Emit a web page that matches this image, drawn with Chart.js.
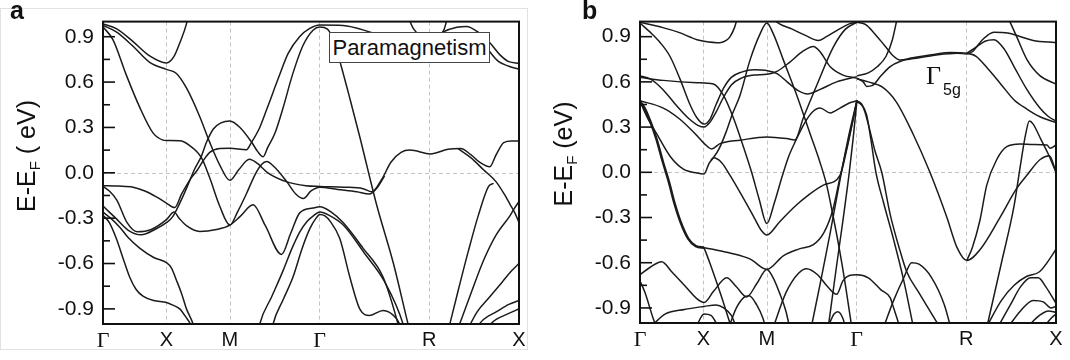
<!DOCTYPE html>
<html>
<head>
<meta charset="utf-8">
<script src="https://cdn.jsdelivr.net/npm/chart.js@4.4.1/dist/chart.umd.min.js"></script>
<style>
body { margin: 0; background: #fff; }
#wrap { position: relative; width: 1070px; height: 360px; overflow: hidden; font-family: "Liberation Sans", Arial, sans-serif; color: #111; }
canvas { position: absolute; top: 0; }
.tag { position: absolute; font: bold 25px/24px "Liberation Sans", Arial, sans-serif; }
.ytitle { position: absolute; font-size: 25px; line-height: 30px; white-space: nowrap; transform: translate(-50%, -50%) rotate(-90deg); }
.ytitle sub { font-size: 15px; vertical-align: -5px; }
.box { position: absolute; left: 329px; top: 32px; width: 161px; height: 31px; box-sizing: border-box; border: 1px solid #444; background: #fff; font-size: 22px; line-height: 29px; text-align: center; white-space: nowrap; }
.note { position: absolute; white-space: nowrap; }
.frame { position: absolute; border: 1px solid #e2e2e2; }
</style>
</head>
<body>
<div id="wrap">
  <div class="frame" style="left:0;top:8px;width:526px;height:340px;"></div>
  <canvas id="chartA" width="535" height="360" style="left:0"></canvas>
  <canvas id="chartB" width="535" height="360" style="left:535px"></canvas>
  <div class="tag" style="left:10px;top:-2px;">a</div>
  <div class="tag" style="left:582px;top:-2px;">b</div>
  <div class="ytitle" style="left:30px;top:156px;">E-E<sub>F</sub> ( eV)</div>
  <div class="ytitle" style="left:567px;top:154px;">E-E<sub>F</sub> (eV)</div>
  <div class="box">Paramagnetism</div>
  <div class="note" style="left:926px;top:63px;font:26px/26px 'Liberation Serif', serif;">Γ</div>
  <div class="note" style="left:943px;top:82px;font:16px/16px 'Liberation Sans', Arial, sans-serif;">5g</div>
</div>
<script>
// k-path: Γ - X - M - Γ - R - X (simple cubic, units of 2π/a)
const kPath = [0, 0.5, 1.0, 1.707, 2.573, 3.28];
const kLabels = ['Γ', 'X', 'M', 'Γ', 'R', 'X'];
const energyTicks = [-0.9, -0.6, -0.3, 0, 0.3, 0.6, 0.9];
const energyMinor = [-0.75, -0.45, -0.15, 0.15, 0.45, 0.75];

// panel a: paramagnetic bands, [k, E-EF]
const bandsA = [
  [[0,0.985],[0.105,0.953],[0.237,0.868],[0.368,0.773],[0.5,0.727],[0.56,0.77],[0.605,0.858],[0.658,0.985],[0.672,1.04]],
  [[0,0.975],[0.105,0.932],[0.237,0.837],[0.368,0.731],[0.5,0.684],[0.579,0.657],[0.658,0.561],[0.763,0.371],[0.842,0.201],[0.92,0.053],[1.0,-0.05],[1.07,0.02],[1.154,0.09],[1.22,0.06],[1.3,0.0],[1.45,-0.06],[1.6,-0.085],[1.71,-0.09],[1.9,-0.095],[2.05,-0.105],[2.12,-0.125],[2.2,-0.04],[2.27,0.07],[2.35,0.135],[2.42,0.15],[2.582,0.125],[2.72,0.155],[2.82,0.16],[2.9,0.12],[2.97,0.07],[3.05,0.04],[3.1,0.12],[3.16,0.2],[3.22,0.21],[3.28,0.21]],
  [[2.8,0.16],[2.9,0.1],[3.0,0.02],[3.1,-0.06],[3.17,-0.15],[3.21,-0.21],[3.25,-0.27],[3.28,-0.33]],
  [[0,0.966],[0.079,0.879],[0.184,0.646],[0.289,0.434],[0.394,0.264],[0.473,0.216],[0.5,0.213],[0.605,0.212],[0.684,0.18],[0.776,0.1],[0.84,-0.03],[0.92,-0.22],[1.0,-0.346],[1.06,-0.26],[1.13,-0.14],[1.2,-0.01],[1.25,0.055],[1.29,0.075],[1.35,0.04],[1.45,-0.06],[1.52,-0.14],[1.58,-0.17],[1.64,-0.12],[1.71,-0.095],[1.85,-0.11],[2.0,-0.125],[2.1,-0.14],[2.16,-0.1],[2.22,-0.02]],
  [[0,-0.22],[0.1,-0.3],[0.2,-0.38],[0.3,-0.41],[0.42,-0.37],[0.5,-0.33],[0.55,-0.29],[0.6,-0.21],[0.66,-0.1],[0.72,0.02],[0.776,0.11],[0.815,0.2],[0.87,0.29],[0.93,0.33],[1.0,0.343],[1.08,0.3],[1.17,0.205],[1.22,0.14],[1.262,0.106],[1.3,0.17],[1.357,0.265],[1.42,0.43],[1.493,0.646],[1.574,0.837],[1.656,0.943],[1.71,0.964],[1.77,0.95],[1.82,0.87],[1.88,0.7],[1.95,0.48],[2.03,0.22],[2.1,-0.02],[2.16,-0.22],[2.29,-0.6],[2.405,-1.0],[2.42,-1.05]],
  [[0,-0.085],[0.12,-0.088],[0.237,-0.095],[0.33,-0.12],[0.421,-0.159],[0.5,-0.2],[0.565,-0.23],[0.62,-0.14],[0.69,-0.04],[0.737,0.01],[0.79,0.08],[0.842,0.135],[0.92,0.16],[1.0,0.163],[1.131,0.153],[1.17,0.2],[1.236,0.3],[1.3,0.44],[1.38,0.62],[1.46,0.79],[1.55,0.9],[1.63,0.955],[1.71,0.978],[1.893,0.975],[2.156,0.92],[2.419,0.879],[2.582,0.87],[2.68,0.93],[2.79,0.962],[2.866,0.968],[2.95,0.935],[3.05,0.86],[3.13,0.78],[3.2,0.735],[3.28,0.725]],
  [[2.40,1.04],[2.45,0.95],[2.51,0.9],[2.582,0.879],[2.65,0.9],[2.69,0.95],[2.72,1.04]],
  [[2.98,0.88],[3.05,0.8],[3.12,0.735],[3.2,0.705],[3.28,0.685]],
  [[0,-0.09],[0.05,-0.12],[0.109,-0.18],[0.19,-0.33],[0.27,-0.39],[0.38,-0.375],[0.5,-0.31],[0.56,-0.26],[0.6,-0.3],[0.658,-0.35],[0.763,-0.388],[0.894,-0.375],[1.0,-0.346],[1.08,-0.29],[1.183,-0.212],[1.28,-0.35],[1.407,-0.54],[1.48,-0.4],[1.551,-0.265],[1.656,-0.233],[1.71,-0.225],[1.8,-0.26],[1.893,-0.329],[2.05,-0.498],[2.208,-0.689],[2.326,-1.0],[2.34,-1.05]],
  [[0,-0.26],[0.06,-0.3],[0.132,-0.36],[0.2,-0.43],[0.289,-0.498],[0.4,-0.56],[0.5,-0.594],[0.54,-0.63],[0.579,-0.71],[0.62,-0.8],[0.658,-0.9],[0.71,-1.0],[0.725,-1.05]],
  [[0,-0.28],[0.05,-0.33],[0.105,-0.435],[0.16,-0.57],[0.21,-0.689],[0.26,-0.77],[0.315,-0.816],[0.4,-0.845],[0.5,-0.858],[0.55,-0.875],[0.605,-0.9],[0.65,-0.95],[0.7,-1.02],[0.71,-1.05]],
  [[1.225,-1.05],[1.236,-1.0],[1.33,-0.82],[1.42,-0.647],[1.49,-0.5],[1.551,-0.392],[1.61,-0.32],[1.656,-0.286],[1.71,-0.26],[1.78,-0.28],[1.9,-0.35],[2.06,-0.53],[2.22,-0.72],[2.366,-1.0],[2.38,-1.05]],
  [[1.33,-1.05],[1.341,-1.0],[1.42,-0.84],[1.498,-0.689],[1.57,-0.5],[1.63,-0.371],[1.68,-0.3],[1.71,-0.275],[1.75,-0.285],[1.79,-0.32],[1.867,-0.435],[1.946,-0.689],[2.024,-0.9],[2.103,-0.943],[2.208,-0.91],[2.31,-0.96],[2.37,-1.05]],
  [[2.72,-1.05],[2.8,-0.78],[2.88,-0.52],[2.96,-0.28],[3.04,-0.09],[3.08,-0.07]],
  [[2.79,-1.05],[2.9,-0.8],[3.0,-0.58],[3.1,-0.41],[3.207,-0.286],[3.24,-0.24],[3.28,-0.19]],
  [[2.866,-1.05],[2.95,-0.92],[3.05,-0.82],[3.15,-0.72],[3.22,-0.65],[3.28,-0.6]],
  [[2.92,-1.05],[3.0,-0.97],[3.1,-0.92],[3.2,-0.87],[3.28,-0.845]],
  [[2.99,-1.05],[3.1,-0.97],[3.2,-0.93],[3.28,-0.9]]
];

// panel b: Γ5g ordered bands, [k, E-EF]
const bandsB = [
  [[0,0.47],[0.04,0.42],[0.08,0.34],[0.13,0.22],[0.18,0.07],[0.23,-0.07],[0.27,-0.2],[0.32,-0.33],[0.38,-0.44],[0.44,-0.49],[0.505,-0.5]],
  [[0,0.995],[0.18,0.96],[0.3,0.93],[0.45,0.88],[0.505,0.87],[0.63,0.86],[0.68,0.875],[0.71,0.9],[0.745,0.96],[0.77,1.03]],
  [[0,0.99],[0.08,0.93],[0.16,0.86],[0.236,0.77],[0.315,0.62],[0.394,0.45],[0.45,0.36],[0.505,0.32],[0.55,0.35],[0.6,0.45],[0.66,0.56],[0.72,0.63],[0.8,0.665],[0.9,0.68],[1.0,0.675],[1.08,0.655],[1.16,0.6],[1.25,0.54],[1.32,0.52],[1.42,0.55],[1.55,0.6],[1.71,0.635]],
  [[0,0.63],[0.184,0.61],[0.45,0.595],[0.578,0.586],[0.657,0.512],[0.736,0.362],[0.815,0.17],[0.88,0.0],[0.94,-0.18],[1.0,-0.34],[1.06,-0.2],[1.12,-0.03],[1.17,0.1],[1.222,0.2],[1.3,0.33],[1.36,0.4],[1.42,0.426],[1.5,0.394],[1.577,0.426],[1.65,0.46],[1.71,0.475]],
  [[0,0.64],[0.08,0.62],[0.18,0.55],[0.28,0.45],[0.38,0.36],[0.46,0.31],[0.505,0.3],[0.55,0.33],[0.6,0.4],[0.66,0.5],[0.72,0.58],[0.8,0.625],[0.9,0.645],[1.0,0.65],[1.08,0.67],[1.18,0.73],[1.28,0.8],[1.367,0.835],[1.42,0.8],[1.5,0.7],[1.6,0.645],[1.71,0.625]],
  [[0,0.47],[0.06,0.36],[0.131,0.256],[0.237,0.107],[0.342,0.021],[0.45,-0.005],[0.505,-0.011],[0.545,0.06],[0.578,0.096],[0.62,0.15],[0.68,0.27],[0.73,0.39],[0.789,0.512],[0.868,0.746],[0.946,0.917],[1.0,0.99],[1.052,0.917],[1.13,0.746],[1.236,0.512],[1.341,0.256],[1.42,0.064],[1.472,-0.085],[1.52,-0.28],[1.57,-0.5],[1.62,-0.75],[1.67,-1.03]],
  [[0.505,-0.5],[0.6,-0.515],[0.71,-0.535],[0.87,-0.576],[1.0,-0.644],[1.13,-0.554],[1.25,-0.51],[1.367,-0.48],[1.45,-0.4],[1.52,-0.25],[1.58,-0.02],[1.64,0.2],[1.68,0.35],[1.71,0.475]],
  [[0.505,-0.5],[0.55,-0.6],[0.6,-0.72],[0.66,-0.87],[0.72,-1.03]],
  [[0,0.475],[0.184,0.426],[0.315,0.352],[0.447,0.245],[0.505,0.192],[0.565,0.155],[0.631,0.19],[0.789,0.213],[1.0,0.235],[1.157,0.224],[1.222,0.215],[1.288,0.362],[1.393,0.576],[1.525,0.832],[1.62,0.95],[1.71,0.995]],
  [[0.56,0.08],[0.578,0.096],[0.644,0.064],[0.71,-0.021],[0.8,-0.15],[0.9,-0.3],[0.96,-0.39],[1.0,-0.416],[1.1,-0.33],[1.21,-0.235],[1.33,-0.15],[1.446,-0.085],[1.577,-0.02],[1.63,0.15],[1.68,0.35],[1.71,0.475]],
  [[1.03,1.03],[1.1,0.985],[1.2,0.95],[1.3,0.91],[1.406,0.874],[1.47,0.9],[1.57,0.95],[1.65,0.985],[1.71,0.995]],
  [[1.35,-1.03],[1.43,-0.7],[1.5,-0.4],[1.577,-0.05],[1.64,0.22],[1.71,0.475]],
  [[1.484,-1.03],[1.55,-0.62],[1.6,-0.32],[1.65,0.0],[1.68,0.22],[1.71,0.47]],
  [[1.71,0.475],[1.75,0.45],[1.787,0.38],[1.82,0.22],[1.86,0.0],[1.92,-0.2],[2.0,-0.448],[2.08,-0.72],[2.156,-1.03]],
  [[1.71,0.47],[1.76,0.43],[1.8,0.32],[1.85,0.15],[1.906,0.0],[1.972,-0.277],[2.05,-0.52],[2.103,-0.66],[2.2,-0.8],[2.366,-1.03]],
  [[1.71,0.995],[1.78,0.98],[1.85,0.92],[1.93,0.84],[2.0,0.77],[2.05,0.745],[2.15,0.76],[2.3,0.78],[2.45,0.795],[2.577,0.79],[2.65,0.77],[2.75,0.68],[2.85,0.58],[2.95,0.48],[3.05,0.42],[3.15,0.37],[3.28,0.33]],
  [[1.71,0.64],[1.8,0.66],[1.87,0.7],[1.94,0.77],[1.99,0.88],[2.03,1.03]],
  [[1.71,0.625],[1.76,0.6],[1.787,0.57],[1.83,0.575],[1.9,0.64],[1.97,0.7],[2.05,0.735],[2.2,0.76],[2.35,0.78],[2.5,0.79],[2.577,0.785],[2.62,0.8],[2.7,0.88],[2.79,0.93],[2.9,0.925],[3.0,0.9],[3.1,0.875],[3.28,0.86]],
  [[1.71,0.62],[1.8,0.6],[1.912,0.565],[2.019,0.469],[2.152,0.256],[2.286,0.0],[2.42,-0.3],[2.5,-0.5],[2.577,-0.585],[2.682,-0.512],[2.839,-0.299],[2.97,-0.107],[3.05,-0.02],[3.155,0.085],[3.228,0.11],[3.28,0.0]],
  [[2.577,-0.585],[2.62,-0.5],[2.68,-0.32],[2.734,-0.085],[2.813,0.085],[2.892,0.17],[2.997,0.188],[3.1,0.185],[3.208,0.181],[3.234,0.16],[3.28,0.181]],
  [[2.734,-1.03],[2.85,-0.6],[2.95,-0.22],[3.0,0.05],[3.04,0.25],[3.07,0.34],[3.1,0.32],[3.16,0.22],[3.22,0.12],[3.26,0.04],[3.28,0.0]],
  [[2.9,1.03],[2.97,0.9],[3.05,0.75],[3.155,0.64],[3.28,0.586]],
  [[2.577,0.79],[2.65,0.83],[2.72,0.87],[2.79,0.88],[2.87,0.82],[2.95,0.7],[3.05,0.55],[3.15,0.43],[3.22,0.37],[3.28,0.34]],
  [[1.05,-1.03],[1.15,-0.8],[1.25,-0.67],[1.314,-0.64],[1.4,-0.68],[1.48,-0.76],[1.55,-0.81],[1.6,-0.72],[1.65,-0.685],[1.71,-0.68],[1.8,-0.7],[1.9,-0.78],[1.972,-0.832],[2.0,-0.9],[2.05,-1.03]],
  [[1.48,-1.03],[1.53,-0.94],[1.56,-0.925],[1.6,-0.97],[1.62,-1.03]],
  [[1.92,-1.03],[2.0,-0.85],[2.08,-0.7],[2.142,-0.6],[2.2,-0.61],[2.3,-0.7],[2.4,-0.88],[2.45,-1.03]],
  [[0,-0.68],[0.08,-0.63],[0.171,-0.593],[0.25,-0.66],[0.35,-0.75],[0.45,-0.84],[0.505,-0.864],[0.58,-0.79],[0.684,-0.7],[0.76,-0.76],[0.841,-0.827],[0.92,-0.74],[1.0,-0.645],[1.05,-0.7],[1.1,-0.8],[1.15,-0.92],[1.18,-1.03]],
  [[0,-0.72],[0.04,-0.8],[0.1,-0.96],[0.13,-1.03]],
  [[0.08,-1.03],[0.2,-0.94],[0.35,-0.91],[0.505,-0.89],[0.6,-0.88],[0.66,-0.9],[0.72,-0.95],[0.76,-1.03]],
  [[0.44,-1.03],[0.505,-0.94],[0.56,-0.95],[0.62,-1.03]],
  [[0.7,-1.03],[0.76,-0.9],[0.82,-0.83],[0.86,-0.82],[0.92,-0.88],[0.97,-0.97],[0.99,-1.03]],
  [[2.73,-1.03],[2.85,-0.85],[2.95,-0.75],[3.05,-0.69],[3.15,-0.66],[3.25,-0.55],[3.28,-0.51]],
  [[2.82,-1.03],[2.92,-0.88],[3.0,-0.76],[3.08,-0.7],[3.14,-0.7],[3.2,-0.76],[3.28,-0.87]],
  [[2.9,-1.03],[3.0,-0.92],[3.1,-0.85],[3.18,-0.86],[3.24,-0.9],[3.28,-0.89]],
  [[3.05,-1.03],[3.15,-0.95],[3.22,-0.92],[3.28,-0.93]],
  [[3.18,-1.03],[3.24,-0.97],[3.28,-0.94]]
];
const thickB = [0];

const decor = {
  id: 'decor',
  beforeDatasetsDraw(chart) {
    const { ctx, chartArea: a, scales } = chart;
    ctx.save();
    ctx.strokeStyle = '#c4c4c4';
    ctx.lineWidth = 1;
    ctx.setLineDash([4, 3]);
    kPath.slice(1, -1).forEach(v => {
      const x = Math.round(scales.x.getPixelForValue(v)) + 0.5;
      ctx.beginPath(); ctx.moveTo(x, a.top); ctx.lineTo(x, a.bottom); ctx.stroke();
    });
    const y0 = Math.round(scales.y.getPixelForValue(0)) + 0.5;
    ctx.beginPath(); ctx.moveTo(a.left, y0); ctx.lineTo(a.right, y0); ctx.stroke();
    ctx.restore();
  },
  afterDatasetsDraw(chart) {
    const { ctx, chartArea: a, scales } = chart;
    ctx.save();
    ctx.strokeStyle = '#111';
    ctx.lineWidth = 2;
    ctx.strokeRect(a.left, a.top, a.right - a.left, a.bottom - a.top);
    ctx.lineWidth = 1.6;
    energyTicks.concat(energyMinor).forEach(v => {
      const y = scales.y.getPixelForValue(v);
      const len = energyTicks.includes(v) ? 12 : 7;
      ctx.beginPath(); ctx.moveTo(a.left, y); ctx.lineTo(a.left + len, y); ctx.stroke();
    });
    ctx.restore();
  }
};

function makeChart(id, bands, thick, box) {
  return new Chart(document.getElementById(id), {
    type: 'line',
    data: {
      datasets: bands.map((b, i) => ({
        data: b.map(([x, y]) => ({ x, y })),
        borderColor: '#1b1b1b',
        borderWidth: thick.includes(i) ? 2.6 : 1.5,
        pointRadius: 0,
        fill: false,
        cubicInterpolationMode: 'monotone'
      }))
    },
    options: {
      responsive: false,
      animation: false,
      events: [],
      layout: { padding: { top: box.top, right: box.right, left: 0, bottom: 0 } },
      plugins: { legend: { display: false }, tooltip: { enabled: false } },
      scales: {
        x: {
          type: 'linear', min: 0, max: 3.28,
          afterBuildTicks: s => { s.ticks = kPath.map(v => ({ value: v })); },
          afterFit: s => { s.height = box.xh; },
          grid: { display: false, drawTicks: false },
          border: { display: false },
          ticks: {
            autoSkip: false, maxRotation: 0, padding: 4, color: '#111',
            callback: (v, i) => kLabels[i],
            font: c => kLabels[c.index] === 'Γ'
              ? { family: "'Liberation Serif', serif", size: 22 }
              : { family: "'Liberation Sans', Arial, sans-serif", size: 20 }
          }
        },
        y: {
          min: -1, max: 1,
          afterBuildTicks: s => { s.ticks = energyTicks.map(v => ({ value: v })); },
          afterFit: s => { s.width = box.yw; },
          grid: { display: false, drawTicks: false },
          border: { display: false },
          ticks: {
            padding: 9, color: '#111',
            font: { family: "'Liberation Sans', Arial, sans-serif", size: 21 },
            callback: v => v.toFixed(1)
          }
        }
      }
    },
    plugins: [decor]
  });
}

makeChart('chartA', bandsA, [], { top: 12, right: 16, xh: 36, yw: 103 });
makeChart('chartB', bandsB, thickB, { top: 11, right: 14, xh: 37, yw: 105 });
</script>
</body>
</html>
